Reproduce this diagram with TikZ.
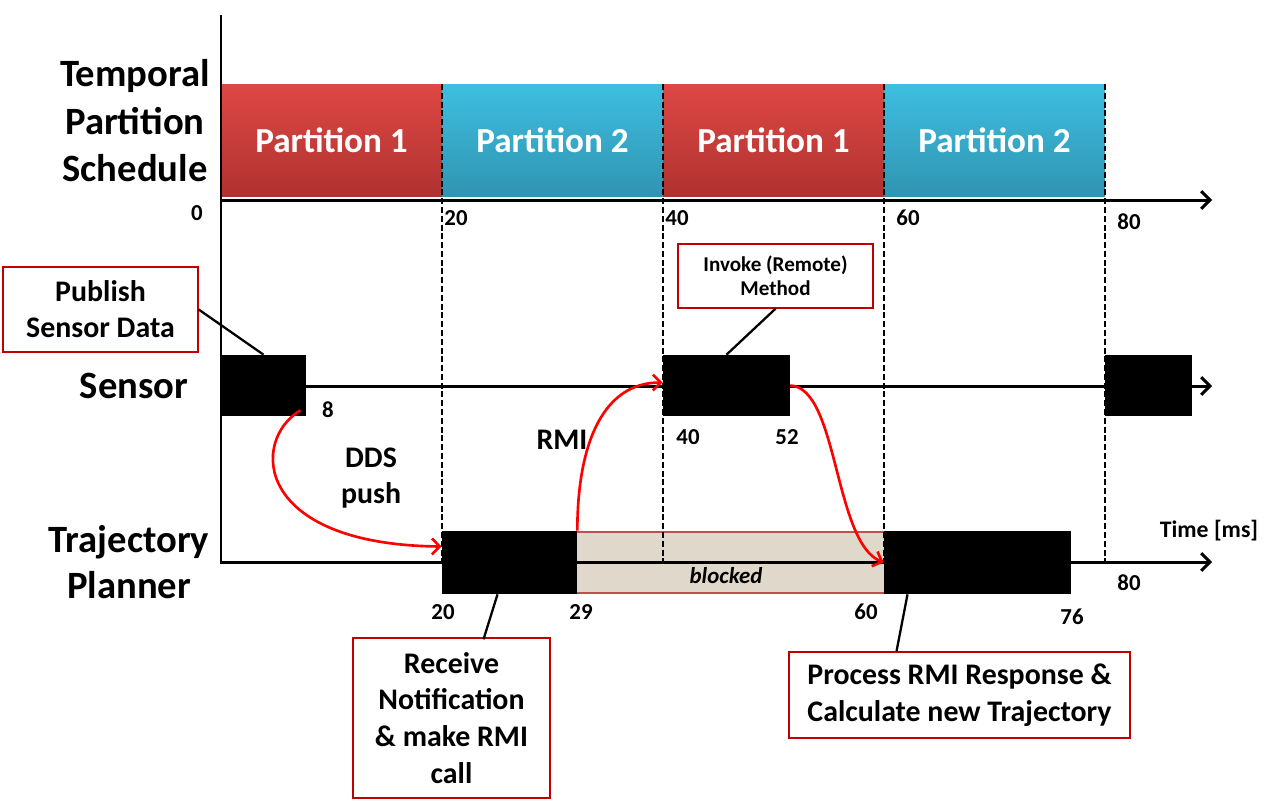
\documentclass[tikz,border=0pt]{standalone}
\usepackage{fontspec}
\setmainfont{Carlito}
\usetikzlibrary{arrows.meta,calc}

\definecolor{redtop}{RGB}{222,72,68}
\definecolor{redbot}{RGB}{175,50,48}
\definecolor{bluetop}{RGB}{62,190,224}
\definecolor{bluebot}{RGB}{48,148,178}
\definecolor{sand}{RGB}{224,216,202}
\definecolor{sandline}{RGB}{192,80,77}
\definecolor{calloutred}{RGB}{192,0,0}
\definecolor{flowred}{RGB}{255,0,0}

\begin{document}
\begin{tikzpicture}[x=0.02cm,y=-0.02cm,
    axis/.style={line width=1.7pt,-{Straight Barb[length=5pt,width=10pt]}},
    sep/.style={line width=1.5pt,dash pattern=on 3.4pt off 1.6pt},
    flow/.style={flowred,line width=1.5pt,-{Straight Barb[length=4.5pt,width=9pt]}},
    pointer/.style={line width=1.3pt},
    part/.style={minimum width=4.42cm,minimum height=2.26cm,inner sep=0pt,
      text=white,font=\fontsize{20}{24}\selectfont\bfseries},
    job/.style={fill=black,inner sep=0pt},
    callout/.style={draw=calloutred,line width=0.8pt,fill=white,align=center,inner sep=0pt},
    tick/.style={font=\fontsize{13}{15}\selectfont\bfseries},
    row/.style={align=center,font=\fontsize{22}{27}\selectfont\bfseries}]

  \useasboundingbox (0,0) rectangle (1273,806);

  % partition schedule
  \begin{scope}[every node/.style={part}]
    \node[top color=redtop,bottom color=redbot]   (p1) at (331.5,140.5) {Partition 1};
    \node[top color=bluetop,bottom color=bluebot] (p2) at (552.5,140.5) {Partition 2};
    \node[top color=redtop,bottom color=redbot]   (p3) at (773.5,140.5) {Partition 1};
    \node[top color=bluetop,bottom color=bluebot] (p4) at (994.5,140.5) {Partition 2};
  \end{scope}

  % blocked interval
  \node[fill=sand,inner sep=0pt,minimum width=6.14cm,minimum height=1.22cm] (blk) at (730.5,562.5) {};
  \draw[sandline,line width=1.2pt] (blk.north west) -- (blk.north east);
  \draw[sandline,line width=1.2pt] (blk.south west) -- (blk.south east);

  \foreach \x in {442,663,884,1105}
    \draw[sep] (\x,84) -- (\x,562);

  % axes
  \coordinate (origin) at (221,15);
  \coordinate (sched0) at (221,200);
  \coordinate (sched1) at (1212,200);
  \coordinate (sens0) at (221,386);
  \coordinate (sens1) at (1212,386);
  \coordinate (traj0) at (221,562);
  \coordinate (traj1) at (1212,562);
  \draw[line width=1.7pt] (origin) -- (221,564);
  \draw[axis] (sched0) -- (sched1);
  \draw[axis] (sens0) -- (sens1);
  \draw[axis] (traj0) -- (traj1);

  % jobs
  \begin{scope}[every node/.style={job}]
    \node[minimum width=1.70cm,minimum height=1.22cm] (s1) at (263.5,385.5) {};
    \node[minimum width=2.54cm,minimum height=1.22cm] (s2) at (726.5,385.5) {};
    \node[minimum width=1.74cm,minimum height=1.22cm] (s3) at (1148.5,385.5) {};
    \node[minimum width=2.70cm,minimum height=1.26cm] (t1) at (509.5,562.5) {};
    \node[minimum width=3.74cm,minimum height=1.26cm] (t2) at (977.5,562.5) {};
  \end{scope}

  \node[font=\fontsize{13}{15}\selectfont\bfseries\itshape] (blktxt) at (726,576) {blocked};

  % row labels
  \node[row] (schedlbl) at (135,121) {Temporal\\Partition\\Schedule};
  \node[row] (senslbl) at (134,386) {Sensor};
  \node[row,font=\fontsize{22}{26.6}\selectfont\bfseries] (trajlbl) at (129,562) {Trajectory\\Planner};

  % time labels
  \begin{scope}[every node/.style={tick}]
    \node (a0)  at (197,213) {0};
    \node (a20) at (456,218) {20};
    \node (a40) at (677,218) {40};
    \node (a60) at (908,218) {60};
    \node (a80) at (1129,222) {80};
    \node (b8)  at (328,410) {8};
    \node (b40) at (688,437) {40};
    \node (b52) at (787,437) {52};
    \node (c20) at (443,612) {20};
    \node (c29) at (581,612) {29};
    \node (c60) at (866,612) {60};
    \node (c76) at (1072,617) {76};
    \node (c80) at (1129,583) {80};
    \node[font=\fontsize{13.5}{16}\selectfont\bfseries] (unit) at (1209,531) {Time [ms]};
  \end{scope}

  \node[align=center,font=\fontsize{17}{20.5}\selectfont\bfseries] (dds) at (371,478) {DDS\\push};
  \node[font=\fontsize{17}{20}\selectfont\bfseries] (rmi) at (562,440) {RMI};

  % callouts
  \node[callout,minimum width=3.9cm,minimum height=1.7cm,font=\fontsize{17}{20.5}\selectfont\bfseries]
    (pub) at (100.5,309.5) {Publish\\Sensor Data};
  \node[callout,minimum width=3.9cm,minimum height=1.28cm,font=\fontsize{12}{13.6}\selectfont\bfseries]
    (inv) at (775.5,276) {Invoke (Remote)\\Method};
  \node[callout,minimum width=3.94cm,minimum height=3.2cm,font=\fontsize{17}{21}\selectfont\bfseries]
    (rcv) at (451.5,718) {Receive\\Notification\\\& make RMI\\call};
  \node[callout,minimum width=6.82cm,minimum height=1.72cm,font=\fontsize{17}{21}\selectfont\bfseries]
    (proc) at (959.5,695) {Process RMI Response \&\\Calculate new Trajectory};

  \draw[pointer] (pub.east) -- (s1.north);
  \draw[pointer] (inv.south) -- (s2.north);
  \draw[pointer] ($(rcv.north)+(32,2)$) -- ($(t1.south)+(-12,0)$);
  \draw[pointer] ($(proc.north)+(-63,0)$) -- ($(t2.south)+(-70,0)$);

  % message flow
  \draw[flow] ($(s1.south east)+(-6,-6)$) .. controls +(-50,30) and +(-188,-2) .. ($(t1.west)+(0,-16)$);
  \draw[flow] (t1.north east) .. controls +(0,-90) and +(-58,0) .. ($(s2.west)+(0,-3)$);
  \draw[flow] (s2.east) .. controls +(48,2) and +(-50,-20) .. (t2.west);

\end{tikzpicture}
\end{document}
